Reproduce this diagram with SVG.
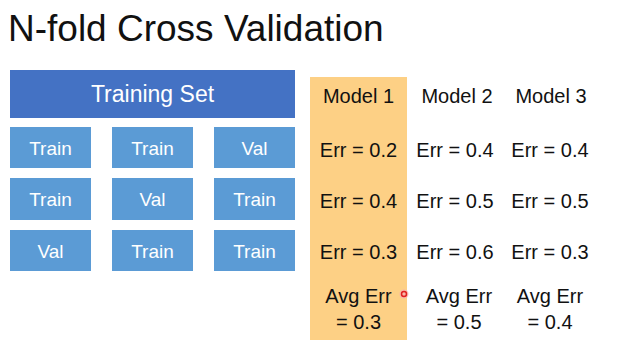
<svg xmlns="http://www.w3.org/2000/svg" width="619" height="361" viewBox="0 0 619 361">
<style>
text{font-family:"Liberation Sans",Arial,sans-serif}
.box{fill:#5B9BD5}
.bt{fill:#fff;font-size:19px;text-anchor:middle}
.t{fill:#111;font-size:20px;text-anchor:middle}
</style>
<rect width="619" height="361" fill="#fff"/>
<text x="8" y="41" font-size="37" fill="#111">N-fold Cross Validation</text>
<g id="training-set"><rect x="10" y="70" width="285" height="48" fill="#4472C4"/><text x="152.5" y="102" fill="#fff" font-size="23" text-anchor="middle">Training Set</text></g>
<g id="r1c1"><rect class="box" x="10" y="127" width="81" height="41"/><text class="bt" x="50.5" y="154.5">Train</text></g>
<g id="r1c2"><rect class="box" x="112" y="127" width="81" height="41"/><text class="bt" x="152.5" y="154.5">Train</text></g>
<g id="r1c3"><rect class="box" x="214" y="127" width="81" height="41"/><text class="bt" x="254.5" y="154.5">Val</text></g>
<g id="r2c1"><rect class="box" x="10" y="178" width="81" height="42"/><text class="bt" x="50.5" y="206">Train</text></g>
<g id="r2c2"><rect class="box" x="112" y="178" width="81" height="42"/><text class="bt" x="152.5" y="206">Val</text></g>
<g id="r2c3"><rect class="box" x="214" y="178" width="81" height="42"/><text class="bt" x="254.5" y="206">Train</text></g>
<g id="r3c1"><rect class="box" x="10" y="230" width="81" height="41"/><text class="bt" x="50.5" y="257.5">Val</text></g>
<g id="r3c2"><rect class="box" x="112" y="230" width="81" height="41"/><text class="bt" x="152.5" y="257.5">Train</text></g>
<g id="r3c3"><rect class="box" x="214" y="230" width="81" height="41"/><text class="bt" x="254.5" y="257.5">Train</text></g>
<g id="model1"><rect x="310" y="77" width="97" height="263" fill="#FDD085"/>
<text class="t" x="358.5" y="103">Model 1</text>
<text class="t" x="358.5" y="157">Err = 0.2</text>
<text class="t" x="358.5" y="208">Err = 0.4</text>
<text class="t" x="358.5" y="259">Err = 0.3</text>
<text class="t" x="358.5" y="303">Avg Err</text>
<text class="t" x="358.5" y="329">= 0.3</text></g>
<g id="model2">
<text class="t" x="457" y="103">Model 2</text>
<text class="t" x="455" y="157">Err = 0.4</text>
<text class="t" x="455" y="208">Err = 0.5</text>
<text class="t" x="455" y="259">Err = 0.6</text>
<text class="t" x="459" y="303">Avg Err</text>
<text class="t" x="459" y="329">= 0.5</text></g>
<g id="model3">
<text class="t" x="551" y="103">Model 3</text>
<text class="t" x="550" y="157">Err = 0.4</text>
<text class="t" x="550" y="208">Err = 0.5</text>
<text class="t" x="550" y="259">Err = 0.3</text>
<text class="t" x="550" y="303">Avg Err</text>
<text class="t" x="550" y="329">= 0.4</text></g>
<g id="pointer"><circle cx="404" cy="294" r="4.5" fill="#F7B0B0" opacity="0.8"/><circle cx="404" cy="294" r="2.5" fill="none" stroke="#E02020" stroke-width="1.5"/></g>
<g id="connectors"></g>
</svg>
